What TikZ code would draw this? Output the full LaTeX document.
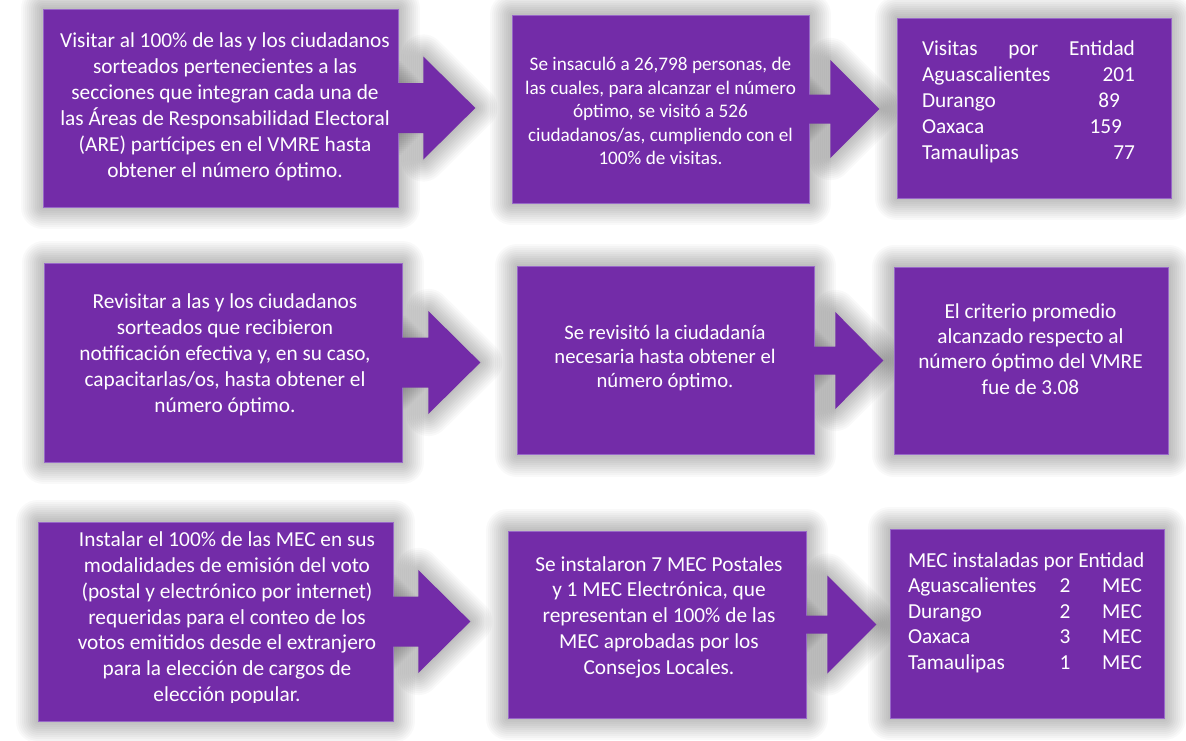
\documentclass[tikz,border=0pt]{standalone}
\usepackage{fontspec}
\setmainfont{Carlito}
\usetikzlibrary{positioning, calc, backgrounds}

\definecolor{morado}{RGB}{115,44,168}
\definecolor{bordemorado}{RGB}{152,104,200}

\tikzstyle{caja} = [
rectangle,
draw=bordemorado,
fill=morado,
line width=0.5pt,
inner sep=0pt]
\tikzstyle{texto} = [
text=white,
align=center,
inner sep=0pt,
font=\fontsize{16}{19.5}\selectfont]
\tikzstyle{sombra} = [
draw=black,
opacity=0.024,
line join=round]
\tikzstyle{flecha} = [
fill=morado]

% soft grey glow: strokes of growing width behind a shape
\newcommand{\brillo}[1]{%
  \begin{pgfonlayer}{background}
    \foreach \d in {2,4,...,22} \draw[sombra, line width=\d*1.5pt] #1;
  \end{pgfonlayer}}
% block arrow out of a box: node, shaft half, head half, shaft length, head length
\newcommand{\flechapath}[5]{($(#1.east)+(-1,#2)$) -- ++(#4+1,0) -- ++(0,#3-#2)
  -- ++(#5,-#3) -- ++(-#5,-#3) -- ++(0,#3-#2) -- ($(#1.east)+(-1,-#2)$) -- cycle}
\newcommand{\flecha}[5]{%
  \brillo{\flechapath{#1}{#2}{#3}{#4}{#5}}
  \fill[flecha] \flechapath{#1}{#2}{#3}{#4}{#5};}

\newcommand{\fila}[2]{\makebox[102.75pt][l]{#1}\makebox[30pt]{#2}\makebox[42.75pt][r]{MEC}}

\begin{document}
\begin{tikzpicture}[x=0.75pt, y=0.75pt]

\useasboundingbox (0,0) rectangle (1186,-740);
\begin{scope}[on background layer]
\fill[white] (0,0) rectangle (1186,-740);
\end{scope}

% boxes
\node[caja, minimum width=266.25pt, minimum height=148.5pt] (a1) at (220.5,-108) {};
\node[caja, minimum width=222.75pt, minimum height=141pt] (a2) at (660.5,-109) {};
\node[caja, minimum width=205.5pt, minimum height=135pt] (a3) at (1034,-108) {};
\node[caja, minimum width=268.5pt, minimum height=149.25pt] (b1) at (223,-362.5) {};
\node[caja, minimum width=222.75pt, minimum height=141pt] (b2) at (665.5,-360.5) {};
\node[caja, minimum width=205.5pt, minimum height=140.25pt] (b3) at (1031.5,-361) {};
\node[caja, minimum width=266.25pt, minimum height=149.25pt] (c1) at (215.5,-621.5) {};
\node[caja, minimum width=223.5pt, minimum height=140.25pt] (c2) at (657,-624.5) {};
\node[caja, minimum width=205.5pt, minimum height=141.75pt] (c3) at (1027,-623.5) {};

% texts
\node[texto] (ta1) at (225,-106.5) {Visitar al 100\% de las y los ciudadanos\\
  sorteados pertenecientes a las\\
  secciones que integran cada una de\\
  las Áreas de Responsabilidad Electoral\\
  (ARE) partícipes en el VMRE hasta\\
  obtener el número óptimo.};
\node[texto, font=\fontsize{14.4}{17.6}\selectfont] (ta2) at (660.5,-111) {Se insaculó a 26,798 personas, de\\
  las cuales, para alcanzar el número\\
  óptimo, se visitó a 526\\
  ciudadanos/as, cumpliendo con el\\
  100\% de visitas.};
\node[texto] (ta3) at (1028.5,-101.5) {\makebox[159.75pt][s]{Visitas por Entidad}\\
  \makebox[159.75pt]{Aguascalientes\hfill 201}\\
  \makebox[159.75pt]{Durango\hfill 89\hspace{11.25pt}}\\
  \makebox[159.75pt]{Oaxaca\hfill 159\hspace{9.75pt}}\\
  \makebox[159.75pt]{Tamaulipas\hfill 77}};

\node[texto] (tb1) at (225,-354.5) {Revisitar a las y los ciudadanos\\
  sorteados que recibieron\\
  notificación efectiva y, en su caso,\\
  capacitarlas/os, hasta obtener el\\
  número óptimo.};
\node[texto, font=\fontsize{15.5}{18}\selectfont] (tb2) at (665,-358) {Se revisitó la ciudadanía\\
  necesaria hasta obtener el\\
  número óptimo.};
\node[texto, font=\fontsize{16}{19}\selectfont] (tb3) at (1030.5,-349) {El criterio promedio\\
  alcanzado respecto al\\
  número óptimo del VMRE\\
  fue de 3.08};

\begin{scope}
\clip (c1.north west) rectangle (393,-702);
\node[texto, font=\fontsize{16}{19.35}\selectfont] (tc1) at (227,-618.5) {Instalar el 100\% de las MEC en sus\\
  modalidades de emisión del voto\\
  (postal y electrónico por internet)\\
  requeridas para el conteo de los\\
  votos emitidos desde el extranjero\\
  para la elección de cargos de\\
  elección popular.};
\end{scope}
\node[texto, font=\fontsize{16}{19.3}\selectfont] (tc2) at (659,-617) {Se instalaron 7 MEC Postales\\
  y 1 MEC Electrónica, que\\
  representan el 100\% de las\\
  MEC aprobadas por los\\
  Consejos Locales.};
\node[texto, font=\fontsize{16}{19.1}\selectfont] (tc3) at (1025,-612.5) {\makebox[175.5pt][l]{MEC instaladas por Entidad}\\
  \fila{Aguascalientes}{2}\\
  \fila{Durango}{2}\\
  \fila{Oaxaca}{3}\\
  \fila{Tamaulipas}{1}};

% arrows
\flecha{a1}{25}{51.5}{25}{52}
\flecha{b1}{25}{51.5}{26}{52}
\flecha{c1}{25}{51.5}{25}{52}
\flecha{a2}{14.5}{49}{21}{49}
\flecha{b2}{14}{48.5}{21}{48}
\flecha{c2}{9}{49}{21}{49}

% glow round the boxes
\foreach \c in {a1,a2,a3,b1,b2,b3,c1,c2,c3}
  {\brillo{(\c.south west) rectangle (\c.north east)}}

\end{tikzpicture}
\end{document}
